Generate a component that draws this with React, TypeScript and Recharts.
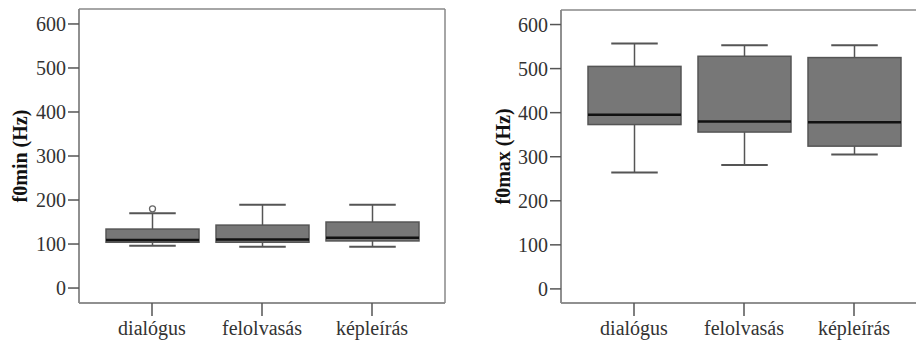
import React from 'react';
import { ComposedChart, Bar, XAxis, YAxis, CartesianGrid } from 'recharts';

const categories = ['dialógus', 'felolvasás', 'képleírás'];

// f0min box plot values (Hz)
const minLow = [96, 94, 94];
const minQ1 = [104, 104, 107];
const minMedian = [109, 110, 114];
const minQ3 = [134, 143, 150];
const minHigh = [170, 189, 189];
const minOutliers = [[180], [], []];

// f0max box plot values (Hz)
const maxLow = [264, 281, 305];
const maxQ1 = [373, 356, 324];
const maxMedian = [395, 380, 378];
const maxQ3 = [505, 528, 525];
const maxHigh = [557, 553, 553];
const maxOutliers = [[], [], []];

const yTicks = [0, 100, 200, 300, 400, 500, 600];

const FONT = "'Liberation Serif', 'Times New Roman', serif";

const buildRows = (
   low: number[],
   q1: number[],
   median: number[],
   q3: number[],
   high: number[],
   outliers: number[][],
) =>
   categories.map((name, i) => ({
      name,
      low: low[i],
      q1: q1[i],
      median: median[i],
      q3: q3[i],
      high: high[i],
      outliers: outliers[i],
   }));

const minRows = buildRows(minLow, minQ1, minMedian, minQ3, minHigh, minOutliers);
const maxRows = buildRows(maxLow, maxQ1, maxMedian, maxQ3, maxHigh, maxOutliers);

// Bar is a range bar [low, high]; the rest of the box is placed on the same scale
const BoxShape = (props: any) => {
   const { x, y, width, height, payload } = props;
   const top = Math.min(y, y + height);
   const bottom = Math.max(y, y + height);
   const k = (bottom - top) / (payload.high - payload.low);
   const py = (v: number) => bottom - (v - payload.low) * k;
   const cx = x + width / 2;
   const cap = width / 4;
   const whisker = '#555';
   return (
      <g>
         <line x1={cx} x2={cx} y1={py(payload.high)} y2={py(payload.q3)} stroke={whisker} strokeWidth={1.5} />
         <line x1={cx} x2={cx} y1={py(payload.q1)} y2={py(payload.low)} stroke={whisker} strokeWidth={1.5} />
         <line x1={cx - cap} x2={cx + cap} y1={py(payload.high)} y2={py(payload.high)} stroke={whisker} strokeWidth={2} />
         <line x1={cx - cap} x2={cx + cap} y1={py(payload.low)} y2={py(payload.low)} stroke={whisker} strokeWidth={2} />
         <rect
            x={x}
            y={py(payload.q3)}
            width={width}
            height={py(payload.q1) - py(payload.q3)}
            fill="#777"
            stroke="#555"
            strokeWidth={1.5}
         />
         <line x1={x} x2={x + width} y1={py(payload.median)} y2={py(payload.median)} stroke="#111" strokeWidth={2.5} />
         {payload.outliers.map((v: number, i: number) => (
            <circle key={i} cx={cx} cy={py(v)} r={3} fill="#fff" stroke="#666" strokeWidth={1.3} />
         ))}
      </g>
   );
};

const AxisTitle = (props: any) => {
   const { viewBox, value, dx } = props;
   const cx = viewBox.x + dx;
   const cy = viewBox.y + viewBox.height / 2;
   return (
      <text
         x={cx}
         y={cy}
         transform={`rotate(-90 ${cx} ${cy})`}
         textAnchor="middle"
         dominantBaseline="central"
         fontWeight="bold"
         fontSize={20}
         fill="#111"
         style={{ fontFamily: FONT }}
      >
         {value}
      </text>
   );
};

const YTick = (props: any) => {
   const { x, y, payload } = props;
   return (
      <text x={x} y={y} textAnchor="end" dy="0.35em" fontSize={20} fill="#333" style={{ fontFamily: FONT }}>
         {payload.value}
      </text>
   );
};

const XTick = (props: any) => {
   const { x, y, payload } = props;
   return (
      <text x={x} y={y} textAnchor="middle" dy="0.71em" fontSize={20} fill="#333" style={{ fontFamily: FONT }}>
         {payload.value}
      </text>
   );
};

// frame lines along the four sides of the plot area
const frameH = ({ offset }: any) => [offset.top, offset.top + offset.height];
const frameV = ({ offset }: any) => [offset.left, offset.left + offset.width];

interface PanelProps {
   rows: any[];
   title: string;
   width: number;
   top: number;
   yWidth: number;
   titleX: number;
   domain: [number, number];
}

const Panel: React.FC<PanelProps> = ({ rows, title, width, top, yWidth, titleX, domain }) => {
   return (
      <ComposedChart width={width} height={343} data={rows} margin={{ top, right: 15, bottom: 0, left: 0 }}>
         <CartesianGrid
            stroke="#888"
            strokeWidth={1.5}
            horizontalCoordinatesGenerator={frameH}
            verticalCoordinatesGenerator={frameV}
         />
         <XAxis
            dataKey="name"
            height={40}
            padding={{ left: 18, right: 18 }}
            tick={<XTick />}
            tickSize={13}
            tickMargin={5}
            tickLine={{ stroke: '#555', strokeWidth: 1.5 }}
            axisLine={{ stroke: '#888', strokeWidth: 1.5 }}
         />
         <YAxis
            width={yWidth}
            domain={domain}
            ticks={yTicks}
            type="number"
            allowDataOverflow
            tick={<YTick />}
            tickSize={11}
            tickMargin={2}
            tickLine={{ stroke: '#555', strokeWidth: 1.5 }}
            axisLine={{ stroke: '#888', strokeWidth: 1.5 }}
            label={<AxisTitle value={title} dx={titleX} />}
         />
         <Bar
            dataKey={(d: any) => [d.low, d.high]}
            barSize={93}
            shape={<BoxShape />}
            isAnimationActive={false}
         />
      </ComposedChart>
   );
};

const App: React.FC = () => {
   return (
      <div
         style={{
            position: 'absolute',
            left: 0,
            top: 0,
            width: 916,
            height: 343,
            overflow: 'hidden',
            background: '#fff',
            fontFamily: FONT,
         }}
      >
         <style>{`.recharts-surface text { font-family: 'Liberation Serif', 'Times New Roman', serif; }`}</style>
         <div style={{ position: 'absolute', left: 0, top: 0 }}>
            <Panel rows={minRows} title="f0min (Hz)" width={460} top={9} yWidth={79} titleX={20} domain={[-34, 634]} />
         </div>
         <div style={{ position: 'absolute', left: 460, top: 0 }}>
            <Panel rows={maxRows} title="f0max (Hz)" width={482} top={10} yWidth={101} titleX={43} domain={[-32, 633]} />
         </div>
      </div>
   );
};

export default App;
